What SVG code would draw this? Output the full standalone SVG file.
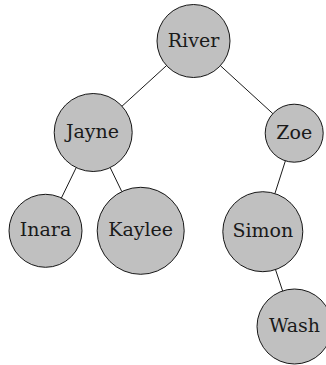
<svg xmlns="http://www.w3.org/2000/svg" width="326" height="365" viewBox="0 0 326 365">
<style>
.n circle{fill:#c0c0c0;stroke:#000;stroke-width:0.9}
.n text{font-family:"DejaVu Serif",serif;font-size:19px;fill:#1a1a1a;text-anchor:middle}
.e line{stroke:#000;stroke-width:0.9}
</style>
<rect width="326" height="365" fill="#fff"/>
<g id="connectors" class="e">
<line x1="166.5" y1="65.6" x2="122.0" y2="106.2"/>
<line x1="220.4" y1="65.7" x2="272.8" y2="113.6"/>
<line x1="285.4" y1="160.8" x2="274.9" y2="193.6"/>
<line x1="76.2" y1="167.6" x2="61.4" y2="198.0"/>
<line x1="110.2" y1="167.6" x2="121.8" y2="191.6"/>
<line x1="275.5" y1="269.6" x2="282.6" y2="290.9"/>
</g>
<g id="river" class="n"><circle cx="193.5" cy="41" r="36.5"/><text x="193.5" y="46.5">River</text></g>
<g id="jayne" class="n"><circle cx="93.2" cy="132.5" r="39"/><text x="92.5" y="138">Jayne</text></g>
<g id="zoe" class="n"><circle cx="294.2" cy="133.2" r="29"/><text x="294.2" y="138.7">Zoe</text></g>
<g id="inara" class="n"><circle cx="45.5" cy="230.8" r="36.5"/><text x="45.5" y="236.3">Inara</text></g>
<g id="kaylee" class="n"><circle cx="140.7" cy="230.8" r="43.5"/><text x="140.7" y="236.3">Kaylee</text></g>
<g id="simon" class="n"><circle cx="262.8" cy="231.7" r="40"/><text x="262.8" y="237.2">Simon</text></g>
<g id="wash" class="n"><circle cx="294.5" cy="326.5" r="37.5"/><text x="294.5" y="332">Wash</text></g>
</svg>
